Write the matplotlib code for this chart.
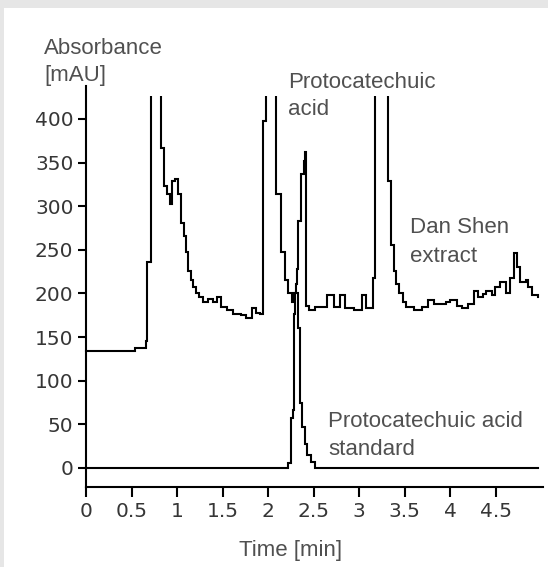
import matplotlib
matplotlib.use('Agg')
import matplotlib.pyplot as plt
from matplotlib.patches import Rectangle
from matplotlib.transforms import Bbox, TransformedBbox
import numpy as np

# Dan Shen extract trace (time in min, absorbance in mAU), drawn as steps
extract_time = [0.00, 0.54, 0.66, 0.675, 0.71, 0.82, 0.86, 0.89, 0.92, 0.95,
                0.98, 1.01, 1.04, 1.08, 1.10, 1.12, 1.15, 1.18, 1.21, 1.24,
                1.29, 1.34, 1.39, 1.44, 1.48, 1.55, 1.62, 1.70, 1.76, 1.82,
                1.87, 1.91, 1.94, 1.98, 2.09, 2.14, 2.19, 2.22, 2.26, 2.29,
                2.31, 2.32, 2.33, 2.36, 2.39, 2.41, 2.42, 2.45, 2.52, 2.59,
                2.65, 2.72, 2.79, 2.85, 2.94, 3.03, 3.08, 3.15, 3.18, 3.32,
                3.35, 3.38, 3.41, 3.44, 3.48, 3.52, 3.60, 3.69, 3.76, 3.82,
                3.87, 3.95, 4.00, 4.07, 4.13, 4.20, 4.26, 4.31, 4.36, 4.39,
                4.46, 4.49, 4.55, 4.61, 4.66, 4.70, 4.73, 4.77, 4.83, 4.86,
                4.90, 4.97]
extract_mau = [134, 137, 145, 236, 600, 367, 323, 314, 303, 329,
               331, 314, 281, 266, 247, 226, 215, 207, 201, 196,
               190, 194, 190, 196, 184, 181, 177, 175, 172, 183,
               178, 176, 398, 600, 314, 247, 215, 200, 190, 200,
               211, 228, 283, 337, 352, 362, 186, 181, 184, 184,
               198, 184, 198, 183, 181, 198, 183, 218, 600, 329,
               255, 226, 211, 200, 190, 184, 181, 184, 192, 188,
               188, 190, 192, 186, 183, 188, 203, 196, 199, 203,
               198, 207, 213, 200, 218, 246, 230, 213, 215, 207,
               198, 196]

# Protocatechuic acid standard trace
standard_time = [0.00, 2.22, 2.25, 2.27, 2.28, 2.30, 2.33, 2.35, 2.37, 2.41,
                 2.43, 2.47, 2.52, 4.97]
standard_mau = [0, 6, 57, 66, 177, 200, 160, 74, 47, 28,
                15, 7, 0, 0]

x_ticks = [0, 0.5, 1, 1.5, 2, 2.5, 3, 3.5, 4, 4.5]
x_tick_labels = ['0', '0.5', '1', '1.5', '2', '2.5', '3', '3.5', '4', '4.5']
y_ticks = [0, 50, 100, 150, 200, 250, 300, 350, 400]

W, H = 548, 567
TICK_FONT = ['Liberation Sans Narrow', 'DejaVu Sans']
LABEL_FONT = ['Liberation Sans', 'DejaVu Sans']
TICK_COLOR = '#363636'
LABEL_COLOR = '#505050'


def fx(px):
    return px / W


def fy(py):
    return 1 - py / H


fig = plt.figure(figsize=(W / 100, H / 100), dpi=100)
fig.patch.set_facecolor('#e6e6e6')
fig.add_artist(Rectangle((fx(4), 0), 1, fy(8), transform=fig.transFigure,
                         facecolor='white', edgecolor='none', zorder=-10))

ax = fig.add_axes([fx(86), fy(487), fx(543) - fx(86), fy(86) - fy(487)])
ax.set_facecolor('none')
ax.set_xlim(0, 5.02)
ax.set_ylim(-21.8, 437.8)

# peaks above ~426 mAU are cut off in the original
clip = TransformedBbox(Bbox.from_extents(-1, -100, 10, 426), ax.transData)
for t, v in [(extract_time, extract_mau), (standard_time, standard_mau)]:
    line, = ax.plot(t, v, drawstyle='steps-post', color='black', lw=1.5,
                    solid_joinstyle='miter')
    line.set_clip_box(clip)

for side in ['top', 'right']:
    ax.spines[side].set_visible(False)
for side in ['left', 'bottom']:
    ax.spines[side].set_linewidth(1.5)

ax.set_xticks(x_ticks)
ax.set_xticklabels(x_tick_labels)
ax.set_yticks(y_ticks)
ax.tick_params(axis='x', length=7, width=1.5, pad=4, labelsize=14.5,
               labelcolor=TICK_COLOR)
ax.tick_params(axis='y', length=5.5, width=1.5, pad=3.5, labelsize=14.5,
               labelcolor=TICK_COLOR)
for lab in ax.get_xticklabels() + ax.get_yticklabels():
    lab.set_family(TICK_FONT)

# annotations (left x, baseline y in pixels)
texts = [
    ('Absorbance', 44, 54),
    ('[mAU]', 44, 81),
    ('Protocatechuic', 288, 88),
    ('acid', 288, 115),
    ('Dan Shen', 410, 233),
    ('extract', 410, 262),
    ('Protocatechuic acid', 328, 427),
    ('standard', 328, 455),
]
for s, x, y in texts:
    fig.text(fx(x), fy(y), s, ha='left', va='baseline', fontsize=16,
             family=LABEL_FONT, color=LABEL_COLOR)

fig.text(fx(291), fy(556), 'Time [min]', ha='center', va='baseline',
         fontsize=16, family=LABEL_FONT, color=LABEL_COLOR)

fig.savefig('out.png', dpi=100, facecolor=fig.get_facecolor())
